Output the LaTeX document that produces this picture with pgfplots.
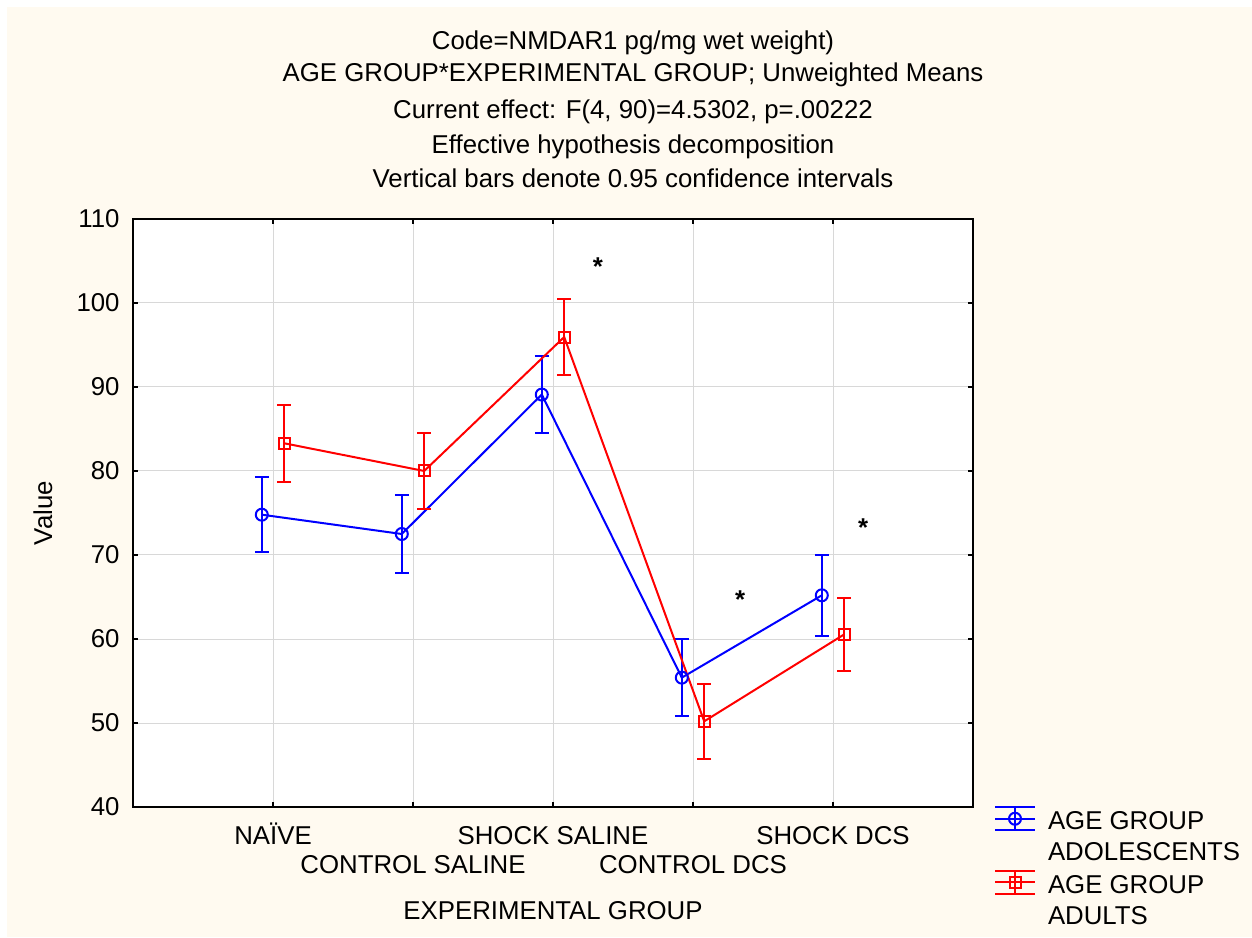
\documentclass[border=0pt]{standalone}
\usepackage{fontspec}
\setmainfont{Liberation Sans}
\usepackage{pgfplots}
\pgfplotsset{compat=1.18}
\definecolor{cream}{RGB}{255,250,240}
\definecolor{gridgray}{RGB}{216,216,216}
\newcommand{\fs}{\fontsize{12.9}{15.5}\selectfont}
\newcommand{\two}[2]{\begin{tabular}[t]{@{}l@{}}#1\\#2\end{tabular}}

\begin{document}
\begin{tikzpicture}[font=\fs]
% page and panel background (1px = 0.5pt, axis origin at px (133,807))
\fill[white] (-66.5pt,-65pt) rectangle (559.5pt,403.5pt);
\fill[cream] (-63pt,-65pt) rectangle (559.5pt,400pt);

\begin{axis}[
  at={(0pt,0pt)}, anchor=south west,
  scale only axis, width=420pt, height=294pt,
  xmin=0, xmax=6, ymin=40, ymax=110,
  xtick={1,3,5},
  xticklabels={NAÏVE,SHOCK SALINE,SHOCK DCS},
  extra x ticks={2,4},
  extra x tick labels={CONTROL SALINE,CONTROL DCS},
  extra x tick style={grid=major, tick label style={yshift=-14.5pt}},
  ytick={40,50,...,110},
  grid=major,
  major grid style={gridgray, line width=0.5pt},
  tick align=inside,
  major tick length=2.5pt,
  tick style={black, line width=0.8pt},
  axis line style={line width=1pt},
  axis background/.style={fill=white},
  /pgf/number format/assume math mode=true,
  yticklabel style={anchor=east, inner sep=0pt, xshift=-6.5pt},
  xticklabel style={anchor=base, inner sep=0pt, yshift=-18.75pt},
  xlabel={EXPERIMENTAL GROUP},
  xlabel style={at={(axis description cs:0.5,-0.1905)}, anchor=base},
  ylabel={Value},
  ylabel style={at={(axis description cs:-0.0964,0.5)}, anchor=base},
  clip=false,
  legend style={at={(rel axis cs:1.025,0.005)}, anchor=north west,
    draw=none, fill=none, inner sep=0pt, outer sep=0pt,
    row sep=15.5pt, column sep=4pt,
    cells={anchor=base west, inner sep=0pt}},
  legend image code/.code={
    \begin{scope}[yshift=5.5pt]
    \draw[#1, mark=none] (0pt,0pt) -- (20pt,0pt);
    \draw[#1, mark=none] (0pt,5.75pt) -- (20pt,5.75pt);
    \draw[#1, mark=none] (0pt,-5.75pt) -- (20pt,-5.75pt);
    \draw[#1, mark=none] (10pt,-5.75pt) -- (10pt,5.75pt);
    \draw[#1, only marks] plot coordinates {(10pt,0pt)};
    \end{scope}
  },
  every axis plot/.append style={line width=1pt},
  error bars/y dir=both,
  error bars/y explicit,
  error bars/error bar style={line width=1pt},
  error bars/error mark options={rotate=90, mark size=3.5pt, line width=1pt},
]

% adolescents
\addplot[blue, mark=o, mark size=3pt, mark options={solid}]
  table[x=x, y=y, y error=e] {
  x     y     e
  0.92  74.8  4.5
  1.92  72.5  4.6
  2.92  89.1  4.6
  3.92  55.4  4.55
  4.92  65.2  4.8
};
\addlegendentry{\two{AGE GROUP}{ADOLESCENTS}}

% adults
\addplot[red, mark=square, mark size=2.75pt, mark options={solid}]
  table[x=x, y=y, y error=e] {
  x     y     e
  1.08  83.3  4.6
  2.08  80.0  4.56
  3.08  95.95 4.56
  4.08  50.2  4.5
  5.08  60.55 4.3
};
\addlegendentry{\two{AGE GROUP}{ADULTS}}

\node[anchor=base] at (axis cs:3.32,103.33) {\textbf{*}};
\node[anchor=base] at (axis cs:4.336,63.65) {\textbf{*}};
\node[anchor=base] at (axis cs:5.216,72.18) {\textbf{*}};
\end{axis}

\node[anchor=base] at (250pt,378.9pt) {Code=NMDAR1 pg/mg wet weight)};
\node[anchor=base] at (250pt,362.9pt) {AGE GROUP*EXPERIMENTAL GROUP; Unweighted Means};
\node[anchor=base] at (250pt,344.4pt) {Current effect: F(4, 90)=4.5302, p=.00222};
\node[anchor=base] at (250pt,326.9pt) {Effective hypothesis decomposition};
\node[anchor=base] at (250pt,309.9pt) {Vertical bars denote 0.95 confidence intervals};
\end{tikzpicture}
\end{document}
